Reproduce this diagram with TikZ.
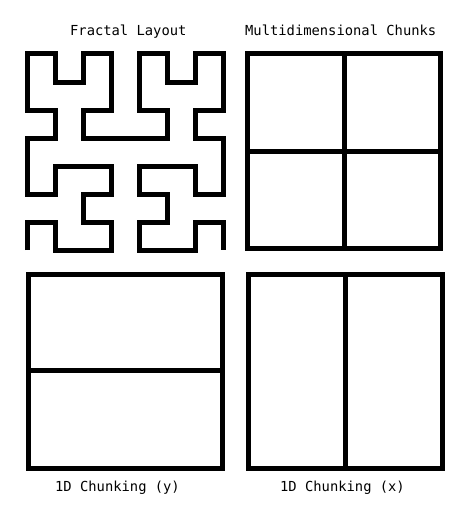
\documentclass[tikz,border=0pt]{standalone}
\usepackage{fontspec}
\setmonofont{DejaVu Sans Mono}
\begin{document}
\begin{tikzpicture}[x=1pt,y=-1pt,
  thick line/.style={line width=5pt,line join=miter,line cap=butt},
  lbl/.style={font=\ttfamily\fontsize{13.8}{16}\selectfont,anchor=base,inner sep=0pt}]
\useasboundingbox (0,0) rectangle (470,519);
% titles
\node[lbl] (tfr) at (128.3,36) {Fractal Layout};
\node[lbl] (tmd) at (340.7,36) {Multidimensional Chunks};
\node[lbl] (ty) at (117.5,491.5) {1D Chunking (y)};
\node[lbl] (tx) at (342.5,491.5) {1D Chunking (x)};
% Hilbert curve (order 3)
\begin{scope}[shift={(27,250)},x=28pt,y=28pt]
\draw[thick line] (0,0)--(0,1)--(1,1)--(1,0)--(3,0)--(3,1)--(2,1)--(2,2)--(3,2)--(3,3)--(1,3)--(1,2)--(0,2)--(0,4)--(1,4)--(1,5)--(0,5)--(0,7)--(1,7)--(1,6)--(2,6)--(2,7)--(3,7)--(3,5)--(2,5)--(2,4)--(5,4)--(5,5)--(4,5)--(4,7)--(5,7)--(5,6)--(6,6)--(6,7)--(7,7)--(7,5)--(6,5)--(6,4)--(7,4)--(7,2)--(6,2)--(6,3)--(4,3)--(4,2)--(5,2)--(5,1)--(4,1)--(4,0)--(6,0)--(6,1)--(7,1)--(7,0);
\end{scope}
% Multidimensional chunks
\coordinate (m1) at (247.5,54);
\coordinate (m2) at (440.7,248.7);
\draw[thick line] (m1) rectangle (m2);
\draw[thick line] (344.7,54) -- (344.7,248.7);
\draw[thick line] (247.5,151) -- (440.7,151);
% 1D chunking y
\coordinate (y1) at (28,274.3);
\coordinate (y2) at (222,468.3);
\draw[thick line] (y1) rectangle (y2);
\draw[thick line] (28,370.7) -- (222,370.7);
% 1D chunking x
\coordinate (x1) at (248,274.3);
\coordinate (x2) at (442.7,468.3);
\draw[thick line] (x1) rectangle (x2);
\draw[thick line] (345,274.3) -- (345,468.3);
\end{tikzpicture}
\end{document}
